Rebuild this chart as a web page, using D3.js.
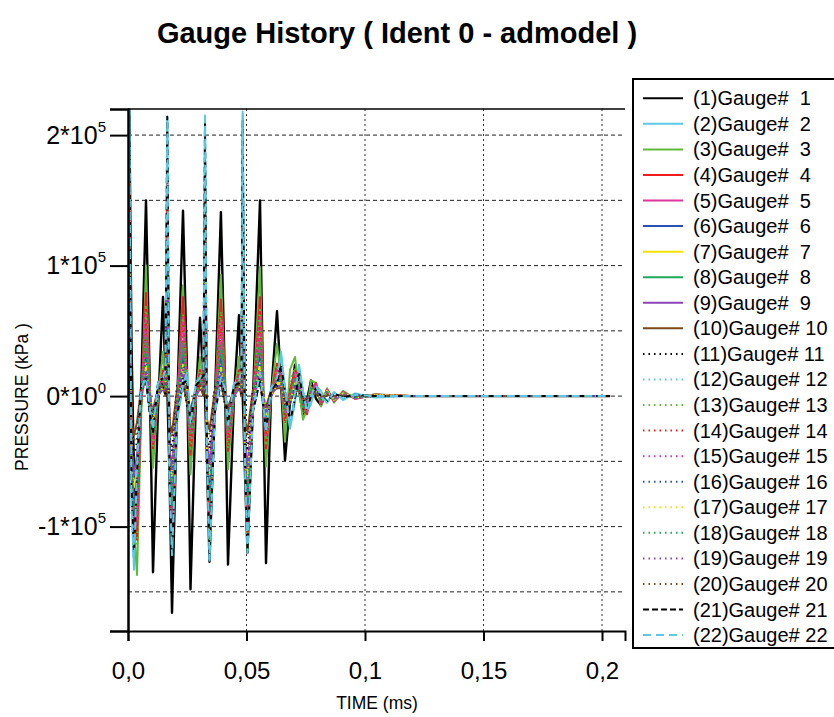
<!DOCTYPE html>
<html><head><meta charset="utf-8">
<script src="https://cdn.jsdelivr.net/npm/d3@7"></script>
<style>body{margin:0;background:#fff}svg{display:block}text{font-family:"Liberation Sans",Arial,sans-serif;fill:#000}</style>
</head><body><svg id="c" width="834" height="717"></svg>
<script>
// ---------- DATA ----------
const chartTitle = "Gauge History ( Ident 0 - admodel )";
const xTitle = "TIME (ms)";
const yTitle = "PRESSURE (kPa )";
const VALUE_UNIT = 1000; // series values below are in 10^3 kPa

const times = [
  0, 0.00055, 0.00148, 0.00253, 0.0038, 0.00549, 0.0076, 0.00907, 0.01055, 0.01266, 0.01477, 0.01582,
  0.01658, 0.01751, 0.01857, 0.02068, 0.02321, 0.02489, 0.02637, 0.02869, 0.03038, 0.03186,
  0.03249, 0.03333, 0.03439, 0.03671, 0.0392, 0.04093, 0.04219, 0.04473, 0.04684, 0.04789,
  0.0484, 0.04937, 0.05042, 0.05274, 0.0557, 0.05696, 0.05823, 0.06034, 0.06287, 0.06456,
  0.06624, 0.06835, 0.07046, 0.07215, 0.07384, 0.07553, 0.07722, 0.07932, 0.08143, 0.08397, 0.08692, 0.09072, 0.09578, 0.10422, 0.11899, 0.14852, 0.20338
];

const g1 = [0, 220, 40, -60, -105, 0, 150, 20, -135, -10, 76, 10,
  5, -60, -166, -10, 142, 20, -148, 0, 60, 10,
  0, -50, -127, 0, 141, 10, -129, 0, 62, 10,
  0, -60, -120, 0, 150, 10, -128, 0, 65, 10,
  -49, -5, 24, 5, -14, -3, 12, -2, -7, 4, -3, 2, -1, 1, 0, 0, 0];
const g2 = [0, 222, -80, -133, -60, 5, 15, -10, -30, 10, 15, 20,
  214, -60, -120, -20, 10, 20, -25, 10, 15, 20,
  215, -40, -125, -10, 15, 5, -20, 10, 10, 20,
  218, -50, -116, -10, 20, -5, -30, 5, 15, 34,
  5, -25, -5, 24, 4, -12, -6, 8, 4, -5, 3, -3, 2, -1, 0, 0, 0];
const g3 = [0, 185, -20, -100, -137, -20, 100, 10, -55, 0, 34, 10,
  150, -40, -115, -10, 85, 10, -60, 0, 30, 10,
  176, -30, -114, -5, 93, 10, -56, 0, 30, 10,
  179, -40, -118, -5, 99, 10, -54, 0, 40, 15,
  -35, 20, 30, 5, -18, -10, 12, 10, -8, 6, -5, 4, -2, 1, 0, 0, 0];
const g4 = [0, 170, -30, -95, -110, -10, 79, 10, -40, 0, 20, 10,
  165, -30, -108, -10, 76, 10, -45, 0, 20, 10,
  157, -30, -100, -5, 74, 10, -42, 0, 20, 10,
  150, -30, -105, -5, 76, 5, -40, 0, 25, 20,
  -20, 5, 20, 14, -8, -14, 4, 10, -6, 5, -4, 3, -2, 1, 0, 0, 0];
const g5 = [0, 145, -40, -105, -95, -5, 62, 5, -35, 0, 15, 5,
  140, -40, -98, -5, 60, 5, -35, 0, 15, 5,
  135, -40, -95, -5, 58, 5, -33, 0, 15, 5,
  132, -40, -98, -5, 60, 5, -32, 0, 20, 18,
  -15, -2, 18, 12, -6, -12, 3, 9, -5, 5, -4, 3, -2, 1, 0, 0, 0];
const g6 = [0, 110, -50, -85, -70, -5, 35, 5, -25, 0, 10, 5,
  105, -50, -80, -5, 33, 5, -25, 0, 10, 5,
  100, -45, -78, -5, 32, 5, -24, 0, 10, 5,
  98, -45, -80, -5, 34, 5, -22, 0, 12, 14,
  -10, -6, 10, 10, -4, -8, 3, 6, -4, 3, -2, 2, -1, 0, 0, 0, 0];
const g7 = [0, 90, -55, -70, -55, -3, 25, 5, -20, 0, 8, 5,
  88, -55, -65, -3, 24, 5, -18, 0, 8, 5,
  85, -50, -62, -3, 22, 5, -17, 0, 8, 5,
  82, -50, -64, -3, 25, 4, -16, 0, 10, 10,
  -8, -5, 12, 10, -3, -8, 4, 6, -4, 4, -3, 2, -1, 1, 0, 0, 0];
const g8 = [0, 125, -45, -90, -80, -8, 45, 5, -30, 0, 12, 5,
  120, -45, -85, -8, 42, 5, -30, 0, 12, 5,
  118, -40, -82, -8, 40, 5, -28, 0, 12, 5,
  115, -40, -84, -8, 44, 5, -26, 0, 14, 15,
  -12, 0, 14, 8, -8, -8, 6, 5, -4, 3, -2, 2, -1, 0, 0, 0, 0];
const g9 = [0, 75, -40, -60, -45, -3, 20, 3, -15, 0, 6, 3,
  72, -40, -55, -3, 20, 3, -14, 0, 6, 3,
  70, -38, -52, -3, 18, 3, -13, 0, 6, 3,
  68, -38, -54, -3, 20, 3, -12, 0, 8, 8,
  -6, -4, 8, 6, -3, -5, 3, 4, -2, 2, -1, 1, -1, 0, 0, 0, 0];
const g10 = [0, 40, -20, -30, -20, 5, 12, -5, -10, 5, 8, 0,
  38, -20, -28, 5, 10, -5, -10, 5, 8, 0,
  36, -18, -26, 5, 10, -5, -9, 5, 8, 0,
  35, -18, -27, 5, 12, -4, -8, 4, 6, 6,
  -4, -4, 4, 4, -2, -2, 2, 2, -1, 1, 0, 0, 0, 0, 0, 0, 0];
const g11 = [0, 60, -30, -45, -35, 8, 15, -8, -15, 5, 10, 0,
  58, -30, -42, 8, 14, -8, -14, 5, 10, 0,
  55, -28, -40, 8, 13, -8, -13, 5, 10, 0,
  55, -28, -42, 6, 14, -6, -12, 4, 8, 8,
  -6, -5, 5, 5, -3, -3, 3, 2, -2, 1, -1, 0, 0, 0, 0, 0, 0];
const g12 = [0, 200, -90, -125, -50, 10, 12, -10, -25, 12, 15, 20,
  195, -70, -115, -15, 10, 15, -20, 10, 15, 18,
  190, -50, -118, -10, 12, 5, -18, 10, 12, 20,
  192, -55, -112, -10, 15, -5, -25, 5, 12, 28,
  8, -20, -4, 20, 6, -10, -4, 7, 3, -4, 3, -2, 1, -1, 0, 0, 0];
const g13 = [0, 150, -30, -110, -115, -15, 70, 8, -40, 0, 25, 10,
  140, -40, -100, -8, 62, 8, -42, 0, 22, 10,
  145, -35, -98, -5, 65, 8, -40, 0, 22, 10,
  150, -35, -100, -5, 68, 8, -38, 0, 22, 12,
  -25, 12, 22, 2, -14, -6, 9, 6, -6, 4, -3, 2, -1, 1, 0, 0, 0];
const g14 = [0, 160, -35, -100, -100, -8, 55, 8, -32, 0, 15, 8,
  158, -35, -100, -8, 54, 8, -34, 0, 15, 8,
  150, -35, -95, -5, 52, 8, -32, 0, 15, 8,
  145, -35, -98, -5, 54, 5, -30, 0, 18, 15,
  -16, 2, 16, 12, -6, -12, 3, 8, -5, 4, -3, 2, -1, 1, 0, 0, 0];
const g15 = [0, 135, -45, -95, -85, -5, 48, 5, -30, 0, 12, 5,
  130, -45, -90, -5, 46, 5, -28, 0, 12, 5,
  125, -42, -88, -5, 45, 5, -27, 0, 12, 5,
  122, -42, -90, -5, 47, 5, -26, 0, 15, 14,
  -12, -4, 14, 10, -5, -10, 3, 7, -4, 4, -3, 2, -1, 1, 0, 0, 0];
const g16 = [0, 115, -50, -80, -65, -4, 30, 4, -22, 0, 9, 4,
  110, -50, -75, -4, 28, 4, -22, 0, 9, 4,
  105, -45, -72, -4, 27, 4, -20, 0, 9, 4,
  102, -45, -74, -4, 30, 4, -19, 0, 11, 12,
  -9, -6, 9, 8, -4, -7, 3, 5, -3, 3, -2, 1, -1, 0, 0, 0, 0];
const g17 = [0, 95, -55, -68, -50, -3, 22, 4, -18, 0, 7, 4,
  92, -55, -62, -3, 20, 4, -16, 0, 7, 4,
  90, -50, -60, -3, 20, 4, -15, 0, 7, 4,
  88, -50, -62, -3, 22, 4, -14, 0, 9, 9,
  -7, -5, 10, 9, -3, -7, 3, 5, -3, 3, -2, 2, -1, 0, 0, 0, 0];
const g18 = [0, 120, -48, -88, -75, -6, 40, 5, -28, 0, 11, 5,
  115, -48, -82, -6, 38, 5, -27, 0, 11, 5,
  112, -44, -80, -6, 37, 5, -26, 0, 11, 5,
  110, -44, -82, -6, 40, 5, -24, 0, 13, 13,
  -10, -2, 12, 8, -6, -7, 5, 5, -3, 3, -2, 1, -1, 0, 0, 0, 0];
const g19 = [0, 80, -42, -62, -48, -3, 18, 3, -14, 0, 6, 3,
  76, -42, -58, -3, 17, 3, -13, 0, 6, 3,
  74, -40, -55, -3, 16, 3, -12, 0, 6, 3,
  72, -40, -56, -3, 18, 3, -11, 0, 7, 7,
  -5, -4, 6, 5, -2, -4, 2, 3, -1, 1, -1, 0, 0, 0, 0, 0, 0];
const g20 = [0, 45, -22, -35, -25, 6, 10, -6, -12, 6, 9, 0,
  42, -22, -32, 6, 9, -6, -11, 6, 9, 0,
  40, -20, -30, 6, 9, -6, -10, 6, 9, 0,
  40, -20, -31, 5, 10, -5, -9, 4, 6, 6,
  -4, -4, 4, 4, -2, -2, 2, 2, -1, 1, 0, 0, 0, 0, 0, 0, 0];
const g21 = [0, 215, -70, -120, -60, 8, 12, -12, -28, 10, 14, 18,
  214, -65, -125, -15, 10, 12, -22, 8, 12, 16,
  210, -45, -120, -12, 10, 4, -20, 8, 10, 18,
  212, -50, -118, -12, 12, -6, -26, 4, 10, 24,
  4, -20, -2, 18, -2, -10, 0, 6, 0, -4, 2, -1, 1, 0, 0, 0, 0];
const g22 = [0, 220, -85, -130, -55, 6, 14, -8, -26, 10, 14, 20,
  212, -62, -122, -18, 8, 18, -22, 10, 14, 20,
  213, -42, -126, -12, 14, 6, -22, 10, 10, 22,
  216, -52, -120, -10, 18, -4, -28, 6, 14, 32,
  6, -24, 2, 22, 2, -12, 0, 8, 0, -5, 3, -2, 1, 0, 0, 0, 0];

const seriesValues = [g1,g2,g3,g4,g5,g6,g7,g8,g9,g10,g11,g12,g13,g14,g15,g16,g17,g18,g19,g20,g21,g22];
const seriesNames = ["(1)Gauge#  1","(2)Gauge#  2","(3)Gauge#  3","(4)Gauge#  4","(5)Gauge#  5","(6)Gauge#  6",
  "(7)Gauge#  7","(8)Gauge#  8","(9)Gauge#  9","(10)Gauge# 10","(11)Gauge# 11","(12)Gauge# 12","(13)Gauge# 13",
  "(14)Gauge# 14","(15)Gauge# 15","(16)Gauge# 16","(17)Gauge# 17","(18)Gauge# 18","(19)Gauge# 19","(20)Gauge# 20",
  "(21)Gauge# 21","(22)Gauge# 22"];

const xTicks = [0, 0.05, 0.1, 0.15, 0.2];
const xTickLabels = ["0,0", "0,05", "0,1", "0,15", "0,2"];
const yTicks = [-100000, 0, 100000, 200000];
const yTickMantissa = ["-1*10", "0*10", "1*10", "2*10"];
const yTickExponent = ["5", "0", "5", "5"];
const yGrid = [-150000, -100000, -50000, 0, 50000, 100000, 150000, 200000];
const xDomain = [0, 0.2097];
const yDomain = [-180000, 220000];

// ---------- STYLES ----------
const baseColors = ["#000000","#5cc8e4","#5fba3c","#f01c1c","#e0369c","#2c4fb4","#f2e400","#1fa85a","#8a44b8","#7a4a1e"];
const seriesColors = baseColors.concat(baseColors, ["#000000", "#5cc8e4"]);
const seriesDash = seriesNames.map((_, i) => i < 10 ? null : i < 20 ? "1.5,4" : (i === 20 ? "6,3" : "8,5"));

// ---------- DRAW ----------
const svg = d3.select("#c");
const P = {left: 128, top: 109, right: 625, bottom: 631};
const x = d3.scaleLinear().domain(xDomain).range([P.left, P.right]);
const y = d3.scaleLinear().domain(yDomain).range([P.bottom, P.top]);

svg.append("rect").attr("width", 834).attr("height", 717).attr("fill", "#fff");

svg.append("text").attr("x", 397).attr("y", 43).attr("text-anchor", "middle")
  .attr("font-weight", "bold").attr("font-size", 29).text(chartTitle);

svg.append("defs").append("clipPath").attr("id", "clip").append("rect")
  .attr("x", P.left).attr("y", P.top).attr("width", P.right - P.left).attr("height", P.bottom - P.top);

// grid
svg.append("g").selectAll("line").data(yGrid).join("line")
  .attr("x1", P.left).attr("x2", P.right).attr("y1", d => y(d)).attr("y2", d => y(d))
  .attr("stroke", "#222").attr("stroke-width", 1).attr("stroke-dasharray", "4,3");
svg.append("g").selectAll("line").data(xTicks.slice(1)).join("line")
  .attr("x1", d => x(d)).attr("x2", d => x(d)).attr("y1", P.top).attr("y2", P.bottom)
  .attr("stroke", "#333").attr("stroke-width", 1).attr("stroke-dasharray", "2,3");

// series
const line = d3.line().x(d => x(d[0])).y(d => y(d[1] * VALUE_UNIT));
const plot = svg.append("g").attr("clip-path", "url(#clip)");
seriesValues.forEach((vals, i) => {
  const pts = times.map((t, j) => [t, vals[j]]).filter(d => d[1] !== undefined);
  plot.append("path").datum(pts).attr("d", line).attr("fill", "none")
    .attr("stroke", seriesColors[i]).attr("stroke-width", i === 0 ? 2.4 : 2)
    .attr("stroke-linejoin", "round")
    .attr("stroke-dasharray", seriesDash[i]);
});

// frame: top line, left and bottom axes
svg.append("line").attr("x1", P.left).attr("x2", P.right).attr("y1", P.top).attr("y2", P.top)
  .attr("stroke", "#000").attr("stroke-width", 1.5);

// x axis
const xAxis = svg.append("g").attr("transform", `translate(0,${P.bottom})`)
  .call(d3.axisBottom(x).tickValues(xTicks).tickFormat((d, i) => xTickLabels[i]).tickSize(10).tickPadding(21));
xAxis.select(".domain").attr("stroke", "#000").attr("stroke-width", 2);
xAxis.selectAll(".tick line").attr("stroke", "#000").attr("stroke-width", 2);
xAxis.selectAll(".tick text").attr("font-size", 24).attr("font-family", '"Liberation Sans",Arial,sans-serif');

// y axis
const yAxis = svg.append("g").attr("transform", `translate(${P.left},0)`)
  .call(d3.axisLeft(y).tickValues(yTicks).tickFormat("").tickSize(18));
yAxis.select(".domain").attr("stroke", "#000").attr("stroke-width", 2.5);
yAxis.selectAll(".tick line").attr("stroke", "#000").attr("stroke-width", 2);
const yl = svg.append("g").selectAll("text").data(yTicks).join("text")
  .attr("x", 106).attr("y", d => y(d) + 8.5).attr("text-anchor", "end").attr("font-size", 25);
yl.append("tspan").text((d, i) => yTickMantissa[i]);
yl.append("tspan").attr("dy", -12).attr("font-size", 15).text((d, i) => yTickExponent[i]);

// axis titles
svg.append("text").attr("x", 377).attr("y", 709).attr("text-anchor", "middle").attr("font-size", 17.5).text(xTitle);
svg.append("text").attr("transform", "translate(28,397) rotate(-90)").attr("text-anchor", "middle")
  .attr("font-size", 17.5).text(yTitle);

// legend
const lg = svg.append("g");
lg.append("rect").attr("x", 633).attr("y", 79).attr("width", 206).attr("height", 569)
  .attr("fill", "#fff").attr("stroke", "#000").attr("stroke-width", 2);
seriesNames.forEach((name, i) => {
  const cy = 98.3 + i * 25.56;
  lg.append("line").attr("x1", 643).attr("x2", 683).attr("y1", cy).attr("y2", cy)
    .attr("stroke", seriesColors[i]).attr("stroke-width", 2).attr("stroke-dasharray", seriesDash[i]);
  lg.append("text").attr("x", 693).attr("y", cy + 7).attr("font-size", 20)
    .attr("xml:space", "preserve").style("white-space", "pre").text(name);
});
</script></body></html>
